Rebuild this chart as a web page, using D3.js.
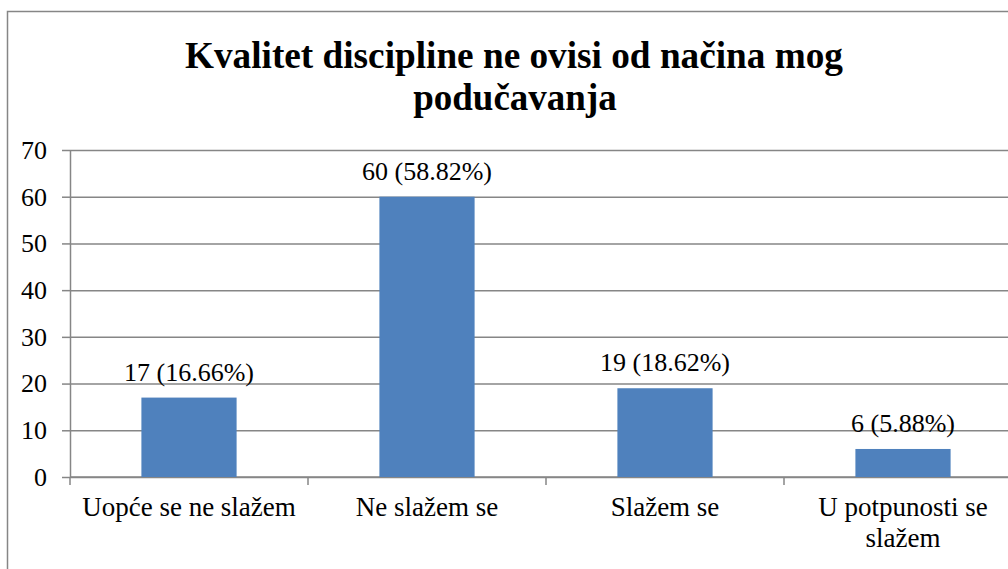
<!DOCTYPE html>
<html>
<head>
<meta charset="utf-8">
<script src="https://cdn.jsdelivr.net/npm/d3@7"></script>
<style>
  body { margin: 0; background: #fff; }
  svg { display: block; }
</style>
</head>
<body>
<div id="chart"></div>
<script>
// chart data
const categories = ["Uopće se ne slažem", "Ne slažem se", "Slažem se", "U potpunosti se slažem"];
const counts = [17, 60, 19, 6];
const percents = ["16.66%", "58.82%", "18.62%", "5.88%"];
const yTicks = [0, 10, 20, 30, 40, 50, 60, 70];
const titleLines = ["Kvalitet discipline ne ovisi od načina mog", "podučavanja"];

const W = 1008, H = 569;
const margin = {top: 150, left: 70, bottom: 92};
const plotRight = 1022;
const plotBottom = H - margin.bottom;   // 477

const svg = d3.select("#chart").append("svg")
    .attr("width", W).attr("height", H);

svg.append("rect").attr("width", W).attr("height", H).attr("fill", "#fff");

// outer frame of the chart (runs off the right and bottom of the picture)
svg.append("rect")
    .attr("x", 7.5).attr("y", 11.5)
    .attr("width", 1040).attr("height", 600)
    .attr("fill", "none")
    .attr("stroke", "#868686")
    .attr("stroke-width", 1.5);

let xScale = d3.scaleBand().domain(categories).range([margin.left, plotRight]).padding(0);
let yScale = d3.scaleLinear().domain([0, 70]).range([plotBottom, margin.top]);

const serif = "Liberation Serif";

// gridlines + left ticks
svg.append("g")
    .attr("transform", "translate(" + margin.left + ",0)")
    .call(d3.axisLeft(yScale).tickValues(yTicks).tickSize(8).tickPadding(15).tickSizeOuter(0))
    .call(g => g.attr("font-family", serif).attr("font-size", 26))
    .call(g => g.select(".domain").attr("stroke", "#868686").attr("stroke-width", 1.5))
    .call(g => g.selectAll(".tick line").attr("stroke", "#868686").attr("stroke-width", 1.5))
    .call(g => g.selectAll(".tick").append("line")
        .attr("x1", 0).attr("x2", plotRight - margin.left)
        .attr("stroke", "#868686").attr("stroke-width", 1.5))
    .call(g => g.selectAll(".tick text").attr("fill", "#000"));

// bottom axis with category ticks at band edges
const bottom = svg.append("g").attr("transform", "translate(0," + plotBottom + ")");
bottom.append("line").attr("x1", margin.left).attr("x2", plotRight)
    .attr("stroke", "#868686").attr("stroke-width", 1.5);
bottom.selectAll(".ctick")
    .data(categories)
    .enter().append("line")
    .attr("x1", d => xScale(d)).attr("x2", d => xScale(d))
    .attr("y1", 0).attr("y2", 8)
    .attr("stroke", "#868686").attr("stroke-width", 1.5);

// category labels, wrapped where too wide
const labelLines = categories.map(c => c === "U potpunosti se slažem" ? ["U potpunosti se", "slažem"] : [c]);
bottom.selectAll(".clabel")
    .data(categories)
    .enter().append("text")
    .attr("text-anchor", "middle")
    .attr("font-family", serif)
    .attr("font-size", 27)
    .attr("fill", "#000")
    .each(function(d, i) {
        labelLines[i].forEach((line, j) => {
            d3.select(this).append("tspan")
                .attr("x", xScale(d) + xScale.bandwidth() / 2)
                .attr("y", 39 + j * 31)
                .text(line);
        });
    });

// bars
const bw = xScale.bandwidth() * 0.4;
svg.selectAll(".bar")
    .data(categories)
    .enter().append("rect")
    .attr("class", "bar")
    .attr("x", d => xScale(d) + (xScale.bandwidth() - bw) / 2)
    .attr("y", (d, i) => yScale(counts[i]))
    .attr("width", bw)
    .attr("height", (d, i) => plotBottom - yScale(counts[i]))
    .style("fill", "#4F81BD");

// value labels
svg.selectAll(".val")
    .data(categories)
    .enter().append("text")
    .attr("x", d => xScale(d) + xScale.bandwidth() / 2)
    .attr("y", (d, i) => yScale(counts[i]) - 17)
    .attr("text-anchor", "middle")
    .attr("font-family", serif)
    .attr("font-size", 26)
    .attr("fill", "#000")
    .text((d, i) => counts[i] + " (" + percents[i] + ")");

// title
svg.append("text")
    .attr("x", 514).attr("y", 68)
    .attr("text-anchor", "middle")
    .attr("textLength", 658).attr("lengthAdjust", "spacingAndGlyphs")
    .attr("font-family", serif).attr("font-size", 37).attr("font-weight", "bold")
    .text(titleLines[0]);
svg.append("text")
    .attr("x", 515).attr("y", 110)
    .attr("text-anchor", "middle")
    .attr("font-family", serif).attr("font-size", 37).attr("font-weight", "bold")
    .text(titleLines[1]);
</script>
</body>
</html>
